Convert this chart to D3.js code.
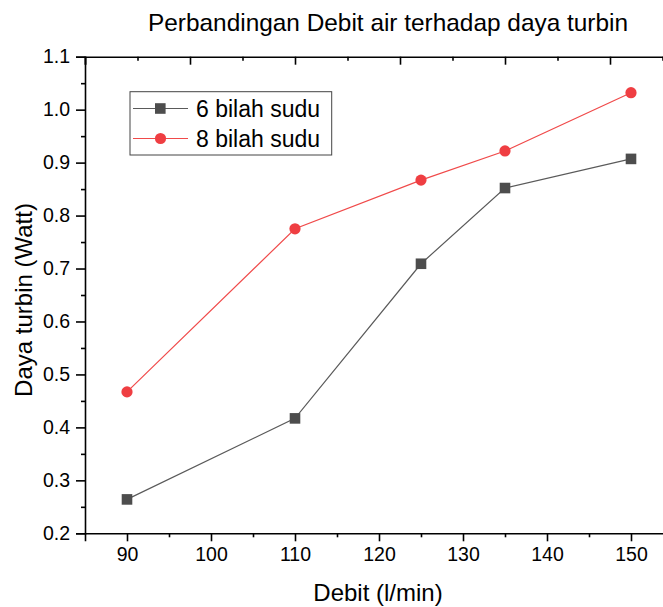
<!DOCTYPE html>
<html>
<head>
<meta charset="utf-8">
<script src="https://cdn.jsdelivr.net/npm/d3@7"></script>
<style>
  body { margin: 0; background: #fff; }
  svg { display: block; font-family: "Liberation Sans", Arial, sans-serif; }
</style>
</head>
<body>
<script>
// data
const debit = [90, 110, 125, 135, 150];
const daya6 = [0.264, 0.417, 0.709, 0.852, 0.907];
const daya8 = [0.467, 0.775, 0.867, 0.922, 1.032];
const seriesNames = ["6 bilah sudu", "8 bilah sudu"];
const xTicks = [90, 100, 110, 120, 130, 140, 150];
const yTicks = [0.2, 0.3, 0.4, 0.5, 0.6, 0.7, 0.8, 0.9, 1.0, 1.1];

const width = 663, height = 607;
const plotLeft = 85, plotTop = 56.7, plotBottom = 533.3, plotRight = 673;

const svg = d3.select("body").append("svg")
    .attr("width", width)
    .attr("height", height);

const x = d3.scaleLinear().domain([85, 155]).range([plotLeft, plotRight]);
const y = d3.scaleLinear().domain([0.2, 1.1]).range([plotBottom, plotTop]);

// title
svg.append("text")
    .attr("x", 148).attr("y", 30.5)
    .style("font-size", "24.4px")
    .text("Perbandingan Debit air terhadap daya turbin");

// bottom axis with minor ticks
const minorX = d3.range(95, 156, 10);
svg.append("g")
    .attr("transform", `translate(0,${plotBottom})`)
    .call(d3.axisBottom(x).tickValues(minorX).tickSize(4).tickFormat(""))
    .call(g => g.select(".domain").remove());
const xAxis = svg.append("g")
    .attr("transform", `translate(0,${plotBottom})`)
    .call(d3.axisBottom(x).tickValues(xTicks).tickSize(8).tickPadding(6).tickFormat(d3.format("d")));
xAxis.selectAll("text").style("font-size", "19.5px").attr("fill", "#000");

// top axis, Origin put its own ticks there (inward)
svg.append("g")
    .attr("transform", `translate(0,${plotTop})`)
    .call(d3.axisTop(x).tickValues(d3.range(85, 156, 12.5)).tickSize(-8).tickFormat(""));
svg.append("g")
    .attr("transform", `translate(0,${plotTop})`)
    .call(d3.axisTop(x).tickValues(d3.range(91.25, 156, 12.5)).tickSize(-4).tickFormat(""))
    .call(g => g.select(".domain").remove());

// left axis
svg.append("g")
    .attr("transform", `translate(${plotLeft},0)`)
    .call(d3.axisLeft(y).tickValues(d3.range(0.25, 1.1, 0.1)).tickSize(4).tickFormat(""))
    .call(g => g.select(".domain").remove());
const yAxis = svg.append("g")
    .attr("transform", `translate(${plotLeft},0)`)
    .call(d3.axisLeft(y).tickValues(yTicks).tickSize(9).tickPadding(6).tickFormat(d3.format(".1f")));
yAxis.selectAll("text").style("font-size", "19.5px").attr("fill", "#000");

svg.selectAll(".domain, .tick line").attr("stroke", "#000").attr("stroke-width", 1.6);

// axis titles
svg.append("text")
    .attr("x", 378).attr("y", 601)
    .attr("text-anchor", "middle")
    .style("font-size", "24px")
    .text("Debit (l/min)");
svg.append("text")
    .attr("transform", `translate(31.5,${(plotTop + plotBottom) / 2 + 5}) rotate(-90)`)
    .attr("text-anchor", "middle")
    .style("font-size", "24px")
    .text("Daya turbin (Watt)");

const line = d3.line().x(d => x(d[0])).y(d => y(d[1]));
const pts6 = debit.map((d, i) => [d, daya6[i]]);
const pts8 = debit.map((d, i) => [d, daya8[i]]);

svg.append("path").datum(pts6)
    .attr("d", line).attr("fill", "none")
    .attr("stroke", "#5a5a5a").attr("stroke-width", 1.2);
svg.append("path").datum(pts8)
    .attr("d", line).attr("fill", "none")
    .attr("stroke", "#f04a4a").attr("stroke-width", 1.2);

svg.selectAll(".sq").data(pts6).enter().append("rect")
    .attr("x", d => x(d[0]) - 5.3).attr("y", d => y(d[1]) - 5.3)
    .attr("width", 10.6).attr("height", 10.6)
    .attr("fill", "#4d4d4d");
svg.selectAll(".dot").data(pts8).enter().append("circle")
    .attr("cx", d => x(d[0])).attr("cy", d => y(d[1]))
    .attr("r", 5.6)
    .attr("fill", "#ef3e42");

// legend
const lg = svg.append("g");
lg.append("rect")
    .attr("x", 130).attr("y", 91.7).attr("width", 201.7).attr("height", 63.3)
    .attr("fill", "#fff").attr("stroke", "#444").attr("stroke-width", 1);
const rows = [108.5, 138.5];
lg.append("line").attr("x1", 133).attr("x2", 188).attr("y1", rows[0]).attr("y2", rows[0])
    .attr("stroke", "#5a5a5a").attr("stroke-width", 1.2);
lg.append("rect").attr("x", 155).attr("y", rows[0] - 5.3).attr("width", 10.6).attr("height", 10.6)
    .attr("fill", "#4d4d4d");
lg.append("line").attr("x1", 133).attr("x2", 188).attr("y1", rows[1]).attr("y2", rows[1])
    .attr("stroke", "#f04a4a").attr("stroke-width", 1.2);
lg.append("circle").attr("cx", 160.5).attr("cy", rows[1]).attr("r", 5.6).attr("fill", "#ef3e42");
seriesNames.forEach((s, i) => {
    lg.append("text")
        .attr("x", 196).attr("y", rows[i] + 8)
        .style("font-size", "23px")
        .text(s);
});
</script>
</body>
</html>
